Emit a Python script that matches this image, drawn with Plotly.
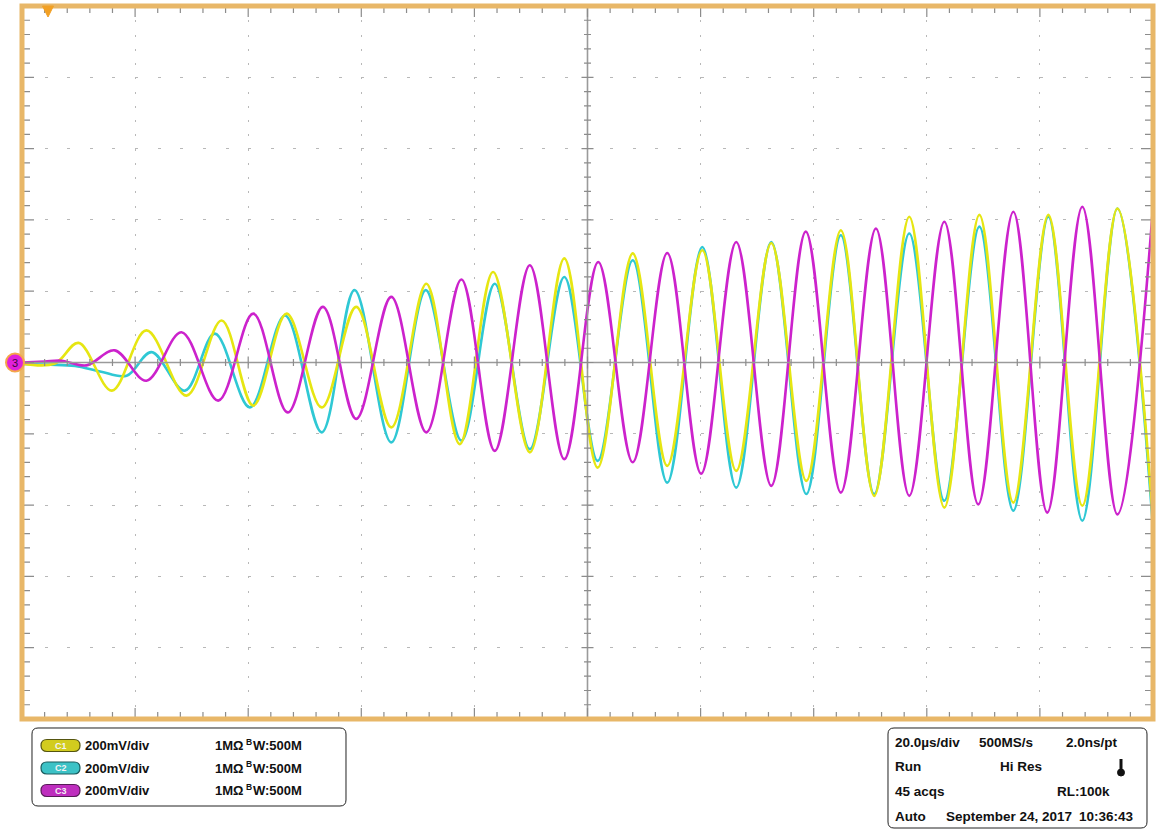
import plotly.graph_objects as go

# ---------------- data (read from the screen) ----------------
# time in microseconds (20 us/div, 10 div), voltage in mV (200 mV/div, 10 div)
c1_t = [0, 5.8, 10.0, 15.9, 22.0, 29.1, 35.3, 40.9, 46.8, 53.0, 59.1, 65.3, 71.5, 77.4, 83.3,
        89.8, 95.9, 101.8, 108.0, 114.1, 120.3, 126.3, 132.5, 138.7, 144.8, 150.7, 156.9,
        163.1, 169.3, 175.3, 181.5, 187.5, 193.7, 200]
c1_v = [-3, -3, 55, -79, 90, -93, 118, -121, 137, -126, 156, -182, 221, -229, 254,
        -252, 292, -295, 306, -290, 315, -304, 335, -332, 371, -374, 409,
        -407, 414, -393, 414, -402, 432, -440]

c2_t = [0, 5.0, 9.4, 13.8, 18.5, 22.9, 28.8, 34.1, 40.3, 46.5, 53.0, 58.8, 65.3, 71.4, 77.7,
        83.6, 89.8, 95.9, 101.8, 108.0, 114.1, 120.3, 126.3, 132.5, 138.7, 144.8, 150.7,
        156.9, 163.1, 169.3, 175.3, 181.5, 187.5, 193.7, 200]
c2_v = [-4, -6, -10, -25, -37, 29, -79, 81, -126, 132, -196, 203, -224, 203, -219,
        221, -243, 240, -276, 287, -337, 324, -351, 338, -369, 357, -369,
        362, -388, 381, -416, 409, -444, 432, -464]

c3_t = [0, 4, 7, 11.4, 16.4, 22.0, 28.2, 34.7, 40.9, 47.0, 53.2, 59.1, 65.3, 71.5, 77.7,
        83.6, 89.8, 95.9, 101.9, 108.0, 114.1, 120.1, 126.3, 132.5, 138.6, 144.8, 151.0,
        156.9, 163.1, 169.1, 175.3, 181.3, 187.5, 193.7, 200]
c3_v = [0, 3, 5, -8, 34, -51, 85, -107, 137, -140, 156, -158, 184, -196, 233,
        -248, 273, -271, 282, -280, 307, -312, 338, -346, 367, -365, 376,
        -374, 395, -398, 423, -421, 437, -426, 436]

channel_names = ["C1", "C2", "C3"]
channel_scale = ["200mV/div", "200mV/div", "200mV/div"]
channel_imp = ["1MΩ", "1MΩ", "1MΩ"]
channel_bw = ["500M", "500M", "500M"]

acq_row1 = ["20.0µs/div", "500MS/s", "2.0ns/pt"]
acq_row2 = ["Run", "Hi Res"]
acq_row3 = ["45 acqs", "RL:100k"]
acq_row4 = ["Auto", "September 24, 2017", "10:36:43"]

x_range = [0, 200]
y_range = [-1000, 1000]

# ---------------- styling ----------------
W, H = 1156, 830
ML, MR, MT, MB = 22, 3, 6, 111
PW, PH = W - ML - MR, H - MT - MB

COL = {"C1": "#E6E612", "C2": "#2FC8D4", "C3": "#CC22CC"}
BADGE = {"C1": ("#D2CC1E", "#55550F"), "C2": ("#3CC2C6", "#1B5C5E"), "C3": ("#BE2EBE", "#561A56")}
FRAME = "#E8B768"
FONT = "Liberation Sans, Arial, sans-serif"


def P(xp, yp):
    return (xp - ML) / PW, (H - MB - yp) / PH


def seg_path(segs):
    out = []
    for x0, y0, x1, y1 in segs:
        a, b = P(x0, y0)
        c, d = P(x1, y1)
        out.append(f"M{a:.5f},{b:.5f}L{c:.5f},{d:.5f}")
    return "".join(out)


def rrect_path(x0, y0, x1, y1, r):
    pts = [("M", [(x0 + r, y0)]), ("L", [(x1 - r, y0)]), ("Q", [(x1, y0), (x1, y0 + r)]),
           ("L", [(x1, y1 - r)]), ("Q", [(x1, y1), (x1 - r, y1)]), ("L", [(x0 + r, y1)]),
           ("Q", [(x0, y1), (x0, y1 - r)]), ("L", [(x0, y0 + r)]), ("Q", [(x0, y0), (x0 + r, y0)])]
    s = ""
    for cmd, ps in pts:
        s += cmd + " ".join("{:.5f},{:.5f}".format(*P(px, py)) for px, py in ps)
    return s + "Z"


fig = go.Figure()
for name, tt, vv in (("C2", c2_t, c2_v), ("C1", c1_t, c1_v), ("C3", c3_t, c3_v)):
    fig.add_trace(go.Scatter(x=tt, y=vv, mode="lines", name=name,
                             line=dict(color=COL[name], width=2.6, shape="spline", smoothing=1.0),
                             hoverinfo="skip", showlegend=False))

shapes = []
xs = [ML + i * PW / 50 for i in range(51)]
ys = [MT + j * PH / 50 for j in range(51)]
xc, yc = ML + PW / 2, MT + PH / 2

# centre cross lines
shapes.append(dict(type="line", xref="paper", yref="paper", x0=0, x1=1, y0=0.5, y1=0.5,
                   line=dict(color="#9a9a9a", width=1.6), layer="above"))
shapes.append(dict(type="line", xref="paper", yref="paper", x0=0.5, x1=0.5, y0=0, y1=1,
                   line=dict(color="#9a9a9a", width=1.6), layer="above"))

segs = []
for i in range(1, 50):
    L = 11 if i % 5 == 0 else 7
    segs.append((xs[i], MT, xs[i], MT + L))
    segs.append((xs[i], MT + PH, xs[i], MT + PH - L))
    h = 6 if i % 5 == 0 else 3.5
    segs.append((xs[i], yc - h, xs[i], yc + h))
for j in range(1, 50):
    L = 12 if j % 5 == 0 else 8
    segs.append((ML, ys[j], ML + L, ys[j]))
    segs.append((ML + PW, ys[j], ML + PW - L, ys[j]))
    h = 6 if j % 5 == 0 else 3.5
    segs.append((xc - h, ys[j], xc + h, ys[j]))
shapes.append(dict(type="path", xref="paper", yref="paper", path=seg_path(segs),
                   line=dict(color="#8c8c8c", width=1.2), layer="above"))

# frame
shapes.append(dict(type="rect", xref="paper", yref="paper", x0=0, x1=1, y0=0, y1=1,
                   line=dict(color=FRAME, width=5), layer="above"))

# trigger position marker
tri = "M{:.5f},{:.5f}L{:.5f},{:.5f}L{:.5f},{:.5f}Z".format(*P(42.5, 6), *P(53.5, 6), *P(48, 17))
shapes.append(dict(type="path", xref="paper", yref="paper", path=tri,
                   fillcolor="#F2A024", line=dict(color="#F2A024", width=1), layer="above"))

# channel 3 ground marker
cx0, cy0 = P(6, 353.5)
cx1, cy1 = P(24, 371.5)
shapes.append(dict(type="circle", xref="paper", yref="paper", x0=cx0, x1=cx1, y0=cy1, y1=cy0,
                   fillcolor="#E021DA", line=dict(color="#F4A64A", width=2), layer="above"))

# info boxes
shapes.append(dict(type="path", xref="paper", yref="paper", path=rrect_path(32, 728, 346, 806, 6),
                   fillcolor="white", line=dict(color="#222", width=1)))
shapes.append(dict(type="path", xref="paper", yref="paper", path=rrect_path(888, 728, 1147, 828, 6),
                   fillcolor="white", line=dict(color="#222", width=1)))

annotations = []


def txt(x, y, s, size=13, color="#111", bold=True, xanchor="left"):
    ax, ay = P(x, y)
    annotations.append(dict(x=ax, y=ay, xref="paper", yref="paper", text=(f"<b>{s}</b>" if bold else s),
                            showarrow=False, xanchor=xanchor, yanchor="middle",
                            font=dict(family=FONT, size=size, color=color)))


row_y = [745.5, 768, 790.5]
for k, name in enumerate(channel_names):
    y = row_y[k]
    fill, edge = BADGE[name]
    shapes.append(dict(type="path", xref="paper", yref="paper",
                       path=rrect_path(41, y - 6, 80, y + 6, 6),
                       fillcolor=fill, line=dict(color=edge, width=1.2)))
    txt(60.5, y, name, size=9, color="#f4f4f4", xanchor="center")
    txt(83, y, channel_scale[k])
    txt(213, y, channel_imp[k])
    txt(243.5, y - 4, "B", size=8.5)
    txt(251, y, "W:" + channel_bw[k])

ry = [742, 766.5, 791.5, 816.5]
fs = 13.5
txt(893, ry[0], acq_row1[0], size=fs)
txt(977, ry[0], acq_row1[1], size=fs)
txt(1064, ry[0], acq_row1[2], size=fs)
txt(893, ry[1], acq_row2[0], size=fs)
txt(998, ry[1], acq_row2[1], size=fs)
txt(893, ry[2], acq_row3[0], size=fs)
txt(1055, ry[2], acq_row3[1], size=fs)
txt(893, ry[3], acq_row4[0], size=fs)
txt(944, ry[3], acq_row4[1], size=fs)
txt(1077, ry[3], acq_row4[2], size=fs)

# thermometer icon
shapes.append(dict(type="line", xref="paper", yref="paper",
                   x0=P(1121, 759)[0], x1=P(1121, 770)[0], y0=P(1121, 759)[1], y1=P(1121, 770)[1],
                   line=dict(color="#111", width=3)))
bx0, by0 = P(1117.5, 769)
bx1, by1 = P(1124.5, 776)
shapes.append(dict(type="circle", xref="paper", yref="paper", x0=bx0, x1=bx1, y0=by1, y1=by0,
                   fillcolor="#111", line=dict(color="#111", width=1)))

# "3" inside marker
txt(15, 362.5, "3", size=11, color="#3a0a3a", bold=False, xanchor="center")

fig.update_layout(
    width=W, height=H,
    margin=dict(l=ML, r=MR, t=MT, b=MB, pad=0),
    paper_bgcolor="white", plot_bgcolor="white",
    shapes=shapes, annotations=annotations,
    showlegend=False,
    xaxis=dict(range=x_range, showticklabels=False, ticks="", zeroline=False, showline=False,
               showgrid=True, dtick=20, tick0=0, gridcolor="#b8b8b8", gridwidth=1,
               griddash=f"2px,{PH / 50 - 2:.2f}px", fixedrange=True),
    yaxis=dict(range=y_range, showticklabels=False, ticks="", zeroline=False, showline=False,
               showgrid=True, dtick=200, tick0=0, gridcolor="#b8b8b8", gridwidth=1,
               griddash=f"3px,{PW / 50 - 3:.2f}px", fixedrange=True),
)

fig.write_html("out.html", config={"displayModeBar": False},
               post_script="document.body.style.margin='0';")
